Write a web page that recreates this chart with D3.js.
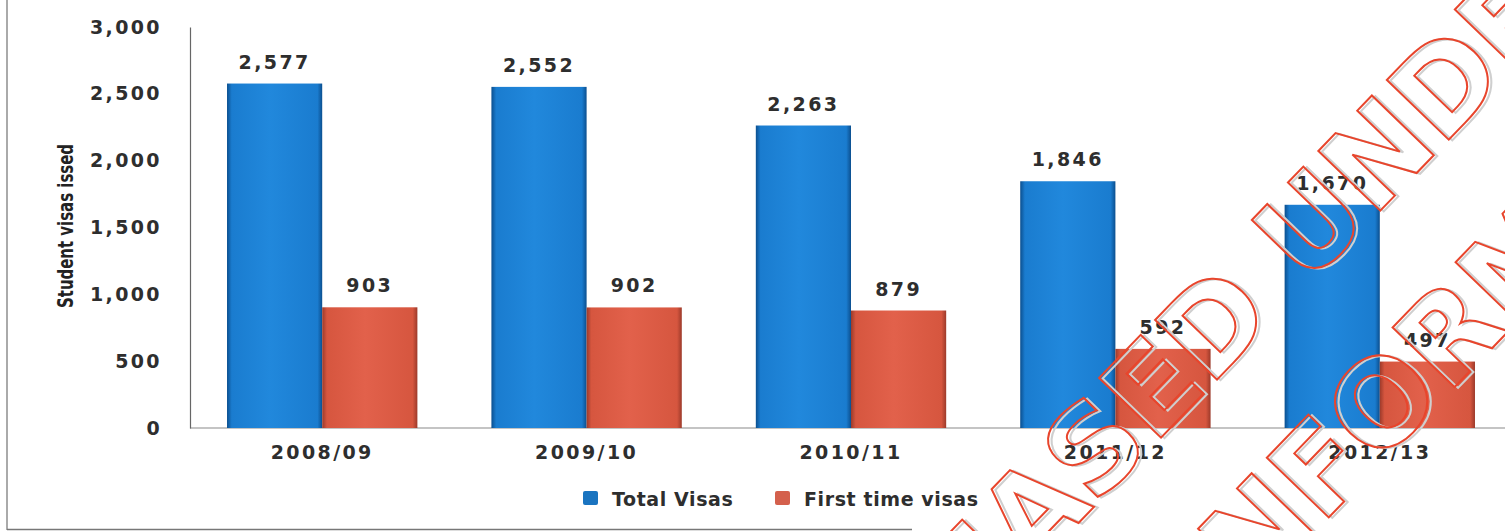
<!DOCTYPE html>
<html>
<head>
<meta charset="utf-8">
<script src="https://cdn.jsdelivr.net/npm/d3@7"></script>
<style>
  body { margin: 0; background: #fff; }
  svg { display: block; }
  .tick text, .val, .legend text { font-family: "DejaVu Sans", Verdana, sans-serif; font-weight: bold; fill: #2e2e2e; }
</style>
</head>
<body>
<div id="main"></div>
<script>
const categories = ["2008/09", "2009/10", "2010/11", "2011/12", "2012/13"];
const totalVisas = [2577, 2552, 2263, 1846, 1670];
const firstTimeVisas = [903, 902, 879, 592, 497];
const seriesNames = ["Total Visas", "First time visas"];
const yTicks = [0, 500, 1000, 1500, 2000, 2500, 3000];
const stampLines = ["RELEASED UNDER THE", "OFFICIAL INFORMATION ACT"];

const w = 1505;
const h = 531;

const svg = d3.select("#main").append("svg")
  .attr("width", w)
  .attr("height", h);

const defs = svg.append("defs");

function barGradient(id, edge, mid, light) {
  const g = defs.append("linearGradient").attr("id", id)
    .attr("x1", "0%").attr("x2", "100%").attr("y1", "0%").attr("y2", "0%");
  g.append("stop").attr("offset", "0%").attr("stop-color", edge);
  g.append("stop").attr("offset", "5%").attr("stop-color", mid);
  g.append("stop").attr("offset", "45%").attr("stop-color", light);
  g.append("stop").attr("offset", "95%").attr("stop-color", mid);
  g.append("stop").attr("offset", "100%").attr("stop-color", edge);
}
barGradient("blueGrad", "#0b4f8f", "#1a7ccf", "#2188dc");
barGradient("redGrad", "#9c3a2a", "#d6563f", "#e2614b");

const colors = ["url(#blueGrad)", "url(#redGrad)"];
const legendColors = ["#1a74c0", "#d4604c"];

// frame of the scanned page
svg.append("line").attr("x1", 7).attr("x2", 7).attr("y1", 0).attr("y2", 530)
  .attr("stroke", "#aaa").attr("stroke-width", 2);
svg.append("line").attr("x1", 7).attr("x2", 912).attr("y1", 529.5).attr("y2", 529.5)
  .attr("stroke", "#777").attr("stroke-width", 1.5);

const x = d3.scaleBand()
  .domain(categories)
  .range([190, 1512])
  .paddingInner(0.28)
  .paddingOuter(0.14);

const xSub = d3.scaleBand()
  .domain(seriesNames)
  .range([0, x.bandwidth()]);

const y = d3.scaleLinear()
  .domain([0, 3000])
  .range([428, 27]);

// baseline
svg.append("line").attr("x1", 190).attr("x2", w).attr("y1", y(0)).attr("y2", y(0))
  .attr("stroke", "#b0b0b0").attr("stroke-width", 1.5);

const yAxis = svg.append("g")
  .attr("transform", "translate(190,0)")
  .call(d3.axisLeft(y).tickValues(yTicks).tickFormat(d3.format(",")).tickSize(0).tickPadding(28));
yAxis.select(".domain").attr("stroke", "#666").attr("stroke-width", 1.2);
yAxis.selectAll(".tick text").style("font-size", "19px").style("letter-spacing", "2.4px");

const xAxis = svg.append("g")
  .attr("transform", "translate(0," + y(0) + ")")
  .call(d3.axisBottom(x).tickSize(0).tickPadding(18));
xAxis.select(".domain").remove();
xAxis.selectAll(".tick text").style("font-size", "19px").style("letter-spacing", "2.4px");

svg.append("text")
  .attr("transform", "translate(73,226) rotate(-90)")
  .attr("text-anchor", "middle")
  .attr("textLength", 164)
  .attr("lengthAdjust", "spacingAndGlyphs")
  .style("font-family", "'Liberation Sans Narrow', 'DejaVu Sans Condensed', sans-serif")
  .style("font-weight", "bold")
  .style("font-size", "21px")
  .style("fill", "#222")
  .text("Student visas issed");

const rows = categories.map((c, i) => ({ cat: c, vals: [totalVisas[i], firstTimeVisas[i]] }));

const groups = svg.selectAll(".grp")
  .data(rows)
  .enter().append("g")
  .attr("class", "grp")
  .attr("transform", d => "translate(" + x(d.cat) + ",0)");

groups.selectAll("rect")
  .data(d => d.vals.map((v, k) => ({ key: seriesNames[k], v: v, k: k })))
  .enter().append("rect")
  .attr("x", d => xSub(d.key))
  .attr("y", d => y(d.v))
  .attr("width", xSub.bandwidth())
  .attr("height", d => y(0) - y(d.v))
  .attr("fill", d => colors[d.k]);

groups.selectAll(".val")
  .data(d => d.vals.map((v, k) => ({ key: seriesNames[k], v: v })))
  .enter().append("text")
  .attr("class", "val")
  .attr("x", d => xSub(d.key) + xSub.bandwidth() / 2)
  .attr("y", d => y(d.v) - 15)
  .attr("text-anchor", "middle")
  .style("font-size", "19px")
  .style("letter-spacing", "2.4px")
  .text(d => d3.format(",")(d.v));

// legend
const legendX = [583, 775];
const legend = svg.append("g").attr("class", "legend");
seriesNames.forEach((name, k) => {
  legend.append("rect")
    .attr("x", legendX[k]).attr("y", 491)
    .attr("width", 15).attr("height", 14).attr("rx", 2)
    .attr("fill", legendColors[k]);
  legend.append("text")
    .attr("x", legendX[k] + 29).attr("y", 506)
    .style("font-size", "19px")
    .style("letter-spacing", "0.6px")
    .text(name);
});

// stamp over the page
const stamp = svg.append("g")
  .attr("transform", "translate(1407,183) rotate(-46)")
  .style("pointer-events", "none");

function stampLine(txt, idx, cx, ly, color, dx, dy) {
  const t = stamp.append("text")
    .attr("y", ly + dy)
    .style("font-family", "'DejaVu Sans', sans-serif")
    .style("font-weight", "bold")
    .style("font-size", "118px")
    .style("fill", "none")
    .style("stroke", color)
    .style("stroke-width", 2)
    .text(txt);
  const n = t.node();
  const off = n.getSubStringLength(0, idx) + n.getSubStringLength(idx, 1) / 2;
  t.attr("x", cx - off + dx);
}
[["#cfcfcf", 2, 3], ["#e8452c", 0, 0]].forEach(s => {
  stampLine(stampLines[0], stampLines[0].indexOf("NDER"), 0, 0, s[0], s[1], s[2]);
  stampLine(stampLines[1], stampLines[1].indexOf("ORMATION"), -175, 176, s[0], s[1], s[2]);
});
</script>
</body>
</html>
